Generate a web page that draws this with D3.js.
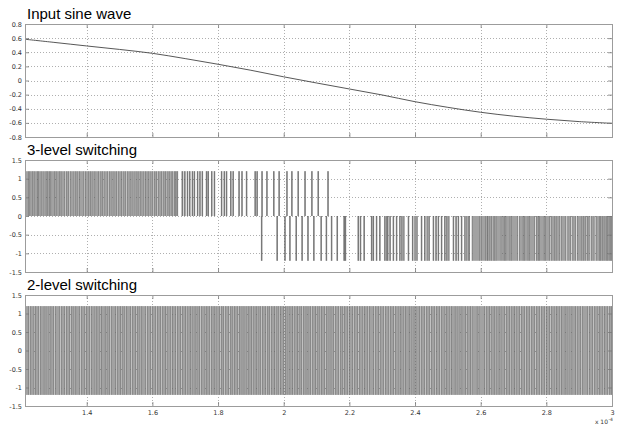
<!DOCTYPE html>
<html>
<head>
<meta charset="utf-8">
<script src="https://cdn.jsdelivr.net/npm/d3@7"></script>
<style>
  html, body { margin: 0; padding: 0; background: #fff; }
  svg { display: block; }
  .title { font-family: "Liberation Sans", Arial, sans-serif; font-size: 15px; fill: #000; }
  .tick text { font-family: "DejaVu Sans", sans-serif; font-size: 6.5px; fill: #333; }
</style>
</head>
<body>
<svg id="chart" width="619" height="424"></svg>
<script>
// Time axis (units of 1e-4 s)
const timeDomain = [1.212, 3.0];
const timeTicks = [1.4, 1.6, 1.8, 2.0, 2.2, 2.4, 2.6, 2.8, 3.0];

// Reference sine wave samples
const sineT = [1.212, 1.3, 1.4, 1.5, 1.6, 1.7, 1.8, 1.9, 2.0, 2.1, 2.2, 2.3, 2.4, 2.5, 2.6, 2.7, 2.8, 2.9, 3.0];
const sineV = [0.584, 0.54, 0.489, 0.44, 0.385, 0.31, 0.23, 0.145, 0.052, -0.035, -0.12, -0.205, -0.30, -0.38, -0.45, -0.505, -0.548, -0.582, -0.606];
const sineTicks = [-0.8, -0.6, -0.4, -0.2, 0, 0.2, 0.4, 0.6, 0.8];

// Switching output levels
const switchLevel = 1.2;
const switchTicks = [-1.5, -1, -0.5, 0, 0.5, 1, 1.5];

// 3-level inverter: positive pulses [on, off]
const threePos = [
  [1.213,1.223],[1.226,1.236],[1.239,1.250],[1.253,1.262],[1.266,1.277],[1.280,1.287],[1.290,1.303],
  [1.306,1.318],[1.321,1.333],[1.337,1.346],[1.350,1.362],[1.366,1.374],[1.378,1.392],[1.396,1.407],
  [1.410,1.420],[1.424,1.436],[1.440,1.448],[1.452,1.464],[1.468,1.478],[1.482,1.491],[1.495,1.506],
  [1.510,1.519],[1.523,1.533],[1.537,1.548],[1.552,1.560],[1.564,1.575],[1.579,1.588],[1.592,1.602],
  [1.606,1.614],[1.618,1.628],[1.632,1.640],[1.644,1.652],[1.656,1.663],
  [1.667,1.671],[1.674,1.677],[1.690,1.693],[1.698,1.700],[1.706,1.708],[1.713,1.715],[1.721,1.723],
  [1.727,1.729],[1.737,1.739],[1.744,1.746],[1.751,1.753],[1.764,1.766],[1.769,1.771],[1.780,1.782],
  [1.788,1.790],[1.810,1.812],[1.818,1.820],[1.825,1.827],[1.838,1.840],[1.845,1.847],[1.863,1.865],
  [1.872,1.874],[1.886,1.888],[1.912,1.914],[1.918,1.920],[1.933,1.935],[1.948,1.950],[1.969,1.971],
  [1.985,1.987],[2.009,2.011],[2.024,2.026],[2.043,2.045],[2.064,2.066],[2.085,2.087],[2.104,2.106],
  [2.134,2.136]
];

// 3-level inverter: negative pulses [on, off]
const threeNeg = [
  [1.932,1.934],[1.979,1.981],[2.003,2.005],[2.018,2.020],[2.037,2.039],[2.055,2.057],[2.073,2.075],
  [2.091,2.093],[2.113,2.115],[2.129,2.131],[2.145,2.147],[2.162,2.164],[2.183,2.185],[2.187,2.189],
  [2.226,2.228],[2.233,2.235],[2.244,2.246],[2.267,2.269],[2.272,2.274],[2.282,2.284],[2.292,2.294],
  [2.307,2.313],[2.316,2.318],[2.323,2.325],[2.333,2.335],[2.343,2.345],[2.353,2.355],[2.359,2.367],
  [2.379,2.381],[2.392,2.394],[2.399,2.407],[2.419,2.421],[2.429,2.431],[2.436,2.444],[2.455,2.457],
  [2.463,2.465],[2.470,2.472],[2.480,2.482],[2.490,2.492],[2.496,2.504],[2.516,2.518],[2.524,2.526],
  [2.531,2.533],[2.541,2.543],[2.551,2.559],[2.563,2.566],[2.574,2.598],
  [2.601,2.616],[2.619,2.622],[2.625,2.633],[2.637,2.643],[2.646,2.663],[2.667,2.673],[2.676,2.690],
  [2.693,2.713],[2.718,2.730],[2.733,2.745],[2.748,2.765],[2.770,2.776],[2.779,2.794],[2.797,2.811],
  [2.815,2.826],[2.829,2.841],[2.845,2.860],[2.865,2.875],[2.880,2.890],[2.895,2.909],[2.912,2.921],
  [2.925,2.931],[2.936,2.946],[2.951,2.962],[2.965,2.972],[2.975,2.983],[2.986,2.992],[2.995,3.000]
];

// 2-level inverter: high pulses [on, off] (low for the rest of the period)
const twoLevel = [
  [1.213,1.224],[1.228,1.240],[1.244,1.254],[1.258,1.271],[1.275,1.286],[1.290,1.300],[1.304,1.318],
  [1.322,1.333],[1.337,1.349],[1.353,1.362],[1.366,1.379],[1.383,1.395],[1.399,1.410],[1.414,1.426],
  [1.430,1.441],[1.445,1.457],[1.461,1.471],[1.475,1.488],[1.492,1.503],[1.507,1.517],[1.521,1.534],
  [1.538,1.549],[1.553,1.563],[1.567,1.580],[1.584,1.595],[1.599,1.610],[1.614,1.626],[1.630,1.640],
  [1.644,1.657],[1.661,1.671],[1.675,1.687],[1.691,1.701],[1.705,1.716],[1.720,1.731],[1.735,1.745],
  [1.749,1.761],[1.765,1.775],[1.779,1.789],[1.793,1.805],[1.809,1.818],[1.822,1.833],[1.837,1.846],
  [1.850,1.861],[1.865,1.874],[1.878,1.889],[1.893,1.902],[1.906,1.917],[1.921,1.930],[1.934,1.945],
  [1.949,1.958],[1.962,1.972],[1.976,1.986],[1.990,2.000],[2.004,2.014],[2.018,2.027],[2.031,2.042],
  [2.046,2.055],[2.059,2.069],[2.073,2.083],[2.087,2.097],[2.101,2.111],[2.115,2.125],[2.129,2.139],
  [2.143,2.153],[2.157,2.168],[2.172,2.181],[2.185,2.196],[2.200,2.210],[2.214,2.226],[2.230,2.242],
  [2.246,2.257],[2.261,2.274],[2.278,2.289],[2.293,2.305],[2.309,2.321],[2.325,2.336],[2.340,2.352],
  [2.356,2.367],[2.371,2.383],[2.387,2.398],[2.402,2.414],[2.418,2.430],[2.434,2.445],[2.449,2.461],
  [2.465,2.476],[2.480,2.492],[2.496,2.507],[2.511,2.523],[2.527,2.538],[2.542,2.554],[2.558,2.569],
  [2.573,2.590],[2.594,2.612],[2.616,2.627],[2.631,2.642],[2.646,2.657],[2.661,2.673],[2.677,2.688],
  [2.692,2.703],[2.707,2.719],[2.723,2.734],[2.738,2.750],[2.754,2.765],[2.769,2.780],[2.784,2.796],
  [2.800,2.811],[2.815,2.827],[2.831,2.842],[2.846,2.858],[2.862,2.873],[2.877,2.889],[2.893,2.905],
  [2.909,2.927],[2.931,2.942],[2.946,2.958],[2.962,2.973],[2.977,2.988],[2.992,3.000]
];

const svg = d3.select("#chart");
const left = 25, right = 612;
const x = d3.scaleLinear().domain(timeDomain).range([left, right]);

const fmt = d => String(+d.toFixed(1));

const panels = [
  { title: "Input sine wave", top: 24, bottom: 137, domain: [-0.8, 0.8], ticks: sineTicks, xLabels: false },
  { title: "3-level switching", top: 160, bottom: 272, domain: [-1.5, 1.5], ticks: switchTicks, xLabels: false },
  { title: "2-level switching", top: 295, bottom: 406, domain: [-1.5, 1.5], ticks: switchTicks, xLabels: true }
];

panels.forEach((p, i) => {
  const y = d3.scaleLinear().domain(p.domain).range([p.bottom, p.top]);
  p.y = y;
  const g = svg.append("g");

  // title
  g.append("text").attr("class", "title")
    .attr("x", left + 2).attr("y", p.top - 5)
    .text(p.title);

  // clip
  g.append("clipPath").attr("id", "clip" + i)
    .append("rect").attr("x", left).attr("y", p.top)
    .attr("width", right - left).attr("height", p.bottom - p.top);

  // grid
  const grid = g.append("g").attr("stroke", "#9a9a9a").attr("stroke-width", 0.8)
    .attr("stroke-dasharray", "1,2");
  grid.selectAll("line.h").data(p.ticks.slice(1, -1)).join("line")
    .attr("x1", left).attr("x2", right)
    .attr("y1", d => Math.round(y(d)) + 0.5).attr("y2", d => Math.round(y(d)) + 0.5);
  grid.selectAll("line.v").data(timeTicks.slice(0, -1)).join("line")
    .attr("y1", p.top).attr("y2", p.bottom)
    .attr("x1", d => Math.round(x(d)) + 0.5).attr("x2", d => Math.round(x(d)) + 0.5);

  p.plot = g.append("g").attr("clip-path", `url(#clip${i})`);
  p.g = g;
});

// Sine wave
panels[0].plot.append("path")
  .datum(sineT.map((t, i) => [t, sineV[i]]))
  .attr("fill", "none").attr("stroke", "#444").attr("stroke-width", 0.9)
  .attr("d", d3.line().x(d => x(d[0])).y(d => panels[0].y(d[1])).curve(d3.curveCatmullRom));

// Pulse trains drawn as filled bars with darker switching edges
function drawPulses(plot, y, pulses, lo, hi) {
  const gp = plot.append("g");
  gp.selectAll("rect").data(pulses).join("rect")
    .attr("x", d => x(d[0]))
    .attr("width", d => Math.max(x(d[1]) - x(d[0]), 0.6))
    .attr("y", y(hi)).attr("height", y(lo) - y(hi))
    .attr("fill", "#a2a2a2");
  const edges = pulses.flatMap(d => [d[0], d[1]]);
  gp.selectAll("line").data(edges).join("line")
    .attr("x1", d => x(d)).attr("x2", d => x(d))
    .attr("y1", y(hi)).attr("y2", y(lo))
    .attr("stroke", "#444").attr("stroke-opacity", 0.65).attr("stroke-width", 0.8);
}

drawPulses(panels[1].plot, panels[1].y, threePos, 0, switchLevel);
drawPulses(panels[1].plot, panels[1].y, threeNeg, -switchLevel, 0);
drawPulses(panels[2].plot, panels[2].y, twoLevel, -switchLevel, switchLevel);

// Axes, frame and inward ticks
panels.forEach(p => {
  const g = p.g;
  const yl = g.append("g").attr("transform", `translate(${left},0)`)
    .call(d3.axisLeft(p.y).tickValues(p.ticks).tickFormat(fmt).tickSizeInner(-4).tickSizeOuter(0).tickPadding(3));
  const yr = g.append("g").attr("transform", `translate(${right},0)`)
    .call(d3.axisRight(p.y).tickValues(p.ticks).tickFormat("").tickSizeInner(-4).tickSizeOuter(0));
  const xb = g.append("g").attr("transform", `translate(0,${p.bottom})`)
    .call(d3.axisBottom(x).tickValues(timeTicks).tickFormat(p.xLabels ? fmt : "").tickSizeInner(-4).tickSizeOuter(0).tickPadding(4));
  const xt = g.append("g").attr("transform", `translate(0,${p.top})`)
    .call(d3.axisTop(x).tickValues(timeTicks).tickFormat("").tickSizeInner(-4).tickSizeOuter(0));
  [yl, yr, xb, xt].forEach(a => {
    a.select(".domain").remove();
    a.selectAll(".tick line").attr("stroke", "#777").attr("stroke-width", 0.8);
  });
  g.append("rect")
    .attr("x", left + 0.5).attr("y", p.top + 0.5)
    .attr("width", right - left).attr("height", p.bottom - p.top)
    .attr("fill", "none").attr("stroke", "#9c9c9c").attr("stroke-width", 1);
});

// Axis exponent
svg.append("text").attr("x", 608).attr("y", 423.5).attr("text-anchor", "end")
  .attr("font-family", "DejaVu Sans, sans-serif").attr("font-size", 6).attr("fill", "#333")
  .text("x 10");
svg.append("text").attr("x", 608.5).attr("y", 420.5)
  .attr("font-family", "DejaVu Sans, sans-serif").attr("font-size", 4.5).attr("fill", "#333").text("-4");
</script>
</body>
</html>
